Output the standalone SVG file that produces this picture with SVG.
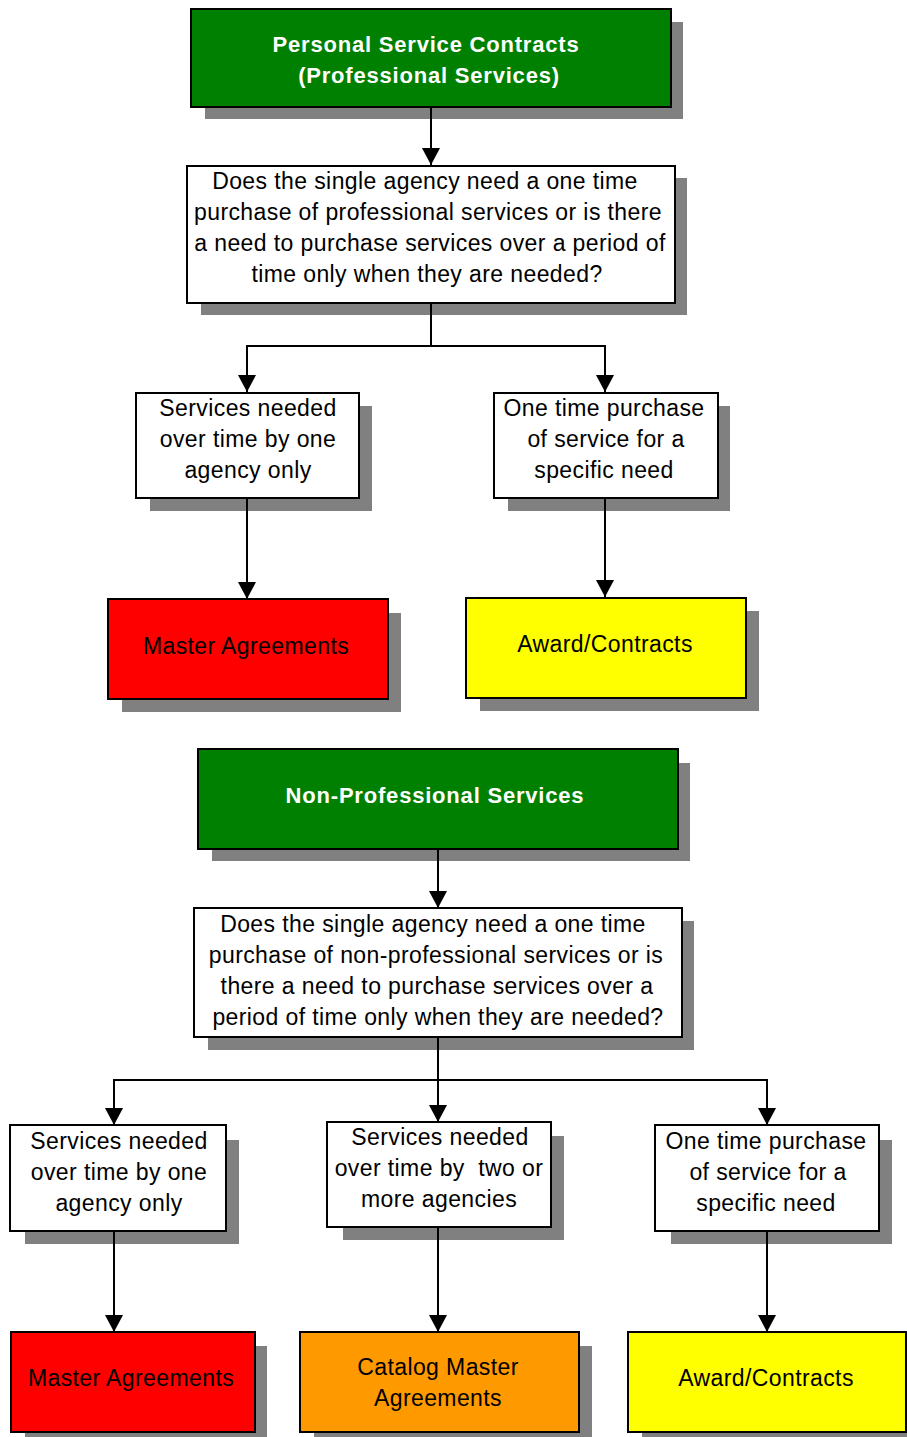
<svg xmlns="http://www.w3.org/2000/svg" width="907" height="1437" viewBox="0 0 907 1437">
<style>
.sh{fill:#808080;}
.bx{stroke:#000;stroke-width:2;}
.w{fill:#fff;}
.g{fill:#008000;}
.r{fill:#ff0000;}
.y{fill:#ffff00;}
.o{fill:#ff9900;}
text{font-family:"Liberation Sans",Arial,sans-serif;font-size:23px;letter-spacing:0.4px;fill:#000;text-anchor:middle;}
text.t{font-weight:bold;fill:#fff;font-size:22px;letter-spacing:0.8px;}
.c{stroke:#000;stroke-width:2;fill:none;}
</style>
<defs>
<marker id="ah" markerUnits="userSpaceOnUse" markerWidth="18" markerHeight="18" refX="17" refY="9" orient="auto" viewBox="0 0 18 18">
<path d="M0,0 L17,9 L0,18 z" fill="#000"/>
</marker>
</defs>

<g id="n1">
<rect class="sh" x="205" y="22" width="478" height="97"/>
<rect class="bx g" x="191" y="9" width="480" height="98"/>
<text class="t"><tspan x="426" y="52">Personal Service Contracts</tspan><tspan x="429" y="83">(Professional Services)</tspan></text>
</g>

<g id="n2">
<rect class="sh" x="201" y="178" width="486" height="137"/>
<rect class="bx w" x="187" y="166" width="488" height="137"/>
<text><tspan x="425" y="189">Does the single agency need a one time</tspan><tspan x="428" y="220">purchase of professional services or is there</tspan><tspan x="430" y="251">a need to purchase services over a period of</tspan><tspan x="427" y="282">time only when they are needed?</tspan></text>
</g>

<g id="n3">
<rect class="sh" x="150" y="406" width="222" height="105"/>
<rect class="bx w" x="136" y="393" width="223" height="105"/>
<text><tspan x="248" y="416">Services needed</tspan><tspan x="248" y="447">over time by one</tspan><tspan x="248" y="478">agency only</tspan></text>
</g>

<g id="n4">
<rect class="sh" x="508" y="406" width="222" height="105"/>
<rect class="bx w" x="494" y="393" width="224" height="105"/>
<text><tspan x="604" y="416">One time purchase</tspan><tspan x="606" y="447">of service for a</tspan><tspan x="604" y="478">specific need</tspan></text>
</g>

<g id="n5">
<rect class="sh" x="122" y="613" width="279" height="99"/>
<rect class="bx r" x="108" y="599" width="280" height="100"/>
<text x="246" y="654">Master Agreements</text>
</g>

<g id="n6">
<rect class="sh" x="480" y="611" width="279" height="100"/>
<rect class="bx y" x="466" y="598" width="280" height="100"/>
<text x="605" y="652">Award/Contracts</text>
</g>

<g id="n7">
<rect class="sh" x="212" y="763" width="478" height="98"/>
<rect class="bx g" x="198" y="749" width="480" height="100"/>
<text class="t" x="435" y="803">Non-Professional Services</text>
</g>

<g id="n8">
<rect class="sh" x="208" y="921" width="486" height="129"/>
<rect class="bx w" x="194" y="908" width="488" height="129"/>
<text><tspan x="433" y="932">Does the single agency need a one time</tspan><tspan x="436" y="963">purchase of non-professional services or is</tspan><tspan x="437" y="994">there a need to purchase services over a</tspan><tspan x="438" y="1025">period of time only when they are needed?</tspan></text>
</g>

<g id="n9">
<rect class="sh" x="25" y="1140" width="214" height="104"/>
<rect class="bx w" x="10" y="1125" width="216" height="106"/>
<text><tspan x="119" y="1149">Services needed</tspan><tspan x="119" y="1180">over time by one</tspan><tspan x="119" y="1211">agency only</tspan></text>
</g>

<g id="n10">
<rect class="sh" x="343" y="1136" width="221" height="104"/>
<rect class="bx w" x="327" y="1122" width="224" height="105"/>
<text style="white-space:pre"><tspan x="440" y="1145">Services needed</tspan><tspan x="439" y="1176">over time by  two or</tspan><tspan x="439" y="1207">more agencies</tspan></text>
</g>

<g id="n11">
<rect class="sh" x="671" y="1140" width="221" height="104"/>
<rect class="bx w" x="655" y="1125" width="224" height="106"/>
<text><tspan x="766" y="1149">One time purchase</tspan><tspan x="768" y="1180">of service for a</tspan><tspan x="766" y="1211">specific need</tspan></text>
</g>

<g id="n12">
<rect class="sh" x="25" y="1346" width="242" height="91"/>
<rect class="bx r" x="11" y="1332" width="244" height="100"/>
<text x="131" y="1386">Master Agreements</text>
</g>

<g id="n13">
<rect class="sh" x="314" y="1346" width="278" height="91"/>
<rect class="bx o" x="300" y="1332" width="279" height="100"/>
<text><tspan x="438" y="1375">Catalog Master</tspan><tspan x="438" y="1406">Agreements</tspan></text>
</g>

<g id="n14">
<rect class="sh" x="642" y="1346" width="265" height="91"/>
<rect class="bx y" x="628" y="1332" width="278" height="100"/>
<text x="766" y="1386">Award/Contracts</text>
</g>

<g id="connectors">
<path class="c" d="M431,107 V165" marker-end="url(#ah)"/>
<path class="c" d="M431,303 V346 H247 V392" marker-end="url(#ah)"/>
<path class="c" d="M431,346 H605 V392" marker-end="url(#ah)"/>
<path class="c" d="M247,498 V599" marker-end="url(#ah)"/>
<path class="c" d="M605,498 V597" marker-end="url(#ah)"/>
<path class="c" d="M438,849 V908" marker-end="url(#ah)"/>
<path class="c" d="M438,1037 V1122" marker-end="url(#ah)"/>
<path class="c" d="M438,1080 H114 V1125" marker-end="url(#ah)"/>
<path class="c" d="M438,1080 H767 V1125" marker-end="url(#ah)"/>
<path class="c" d="M114,1231 V1332" marker-end="url(#ah)"/>
<path class="c" d="M438,1227 V1332" marker-end="url(#ah)"/>
<path class="c" d="M767,1231 V1332" marker-end="url(#ah)"/>
</g>
</svg>
